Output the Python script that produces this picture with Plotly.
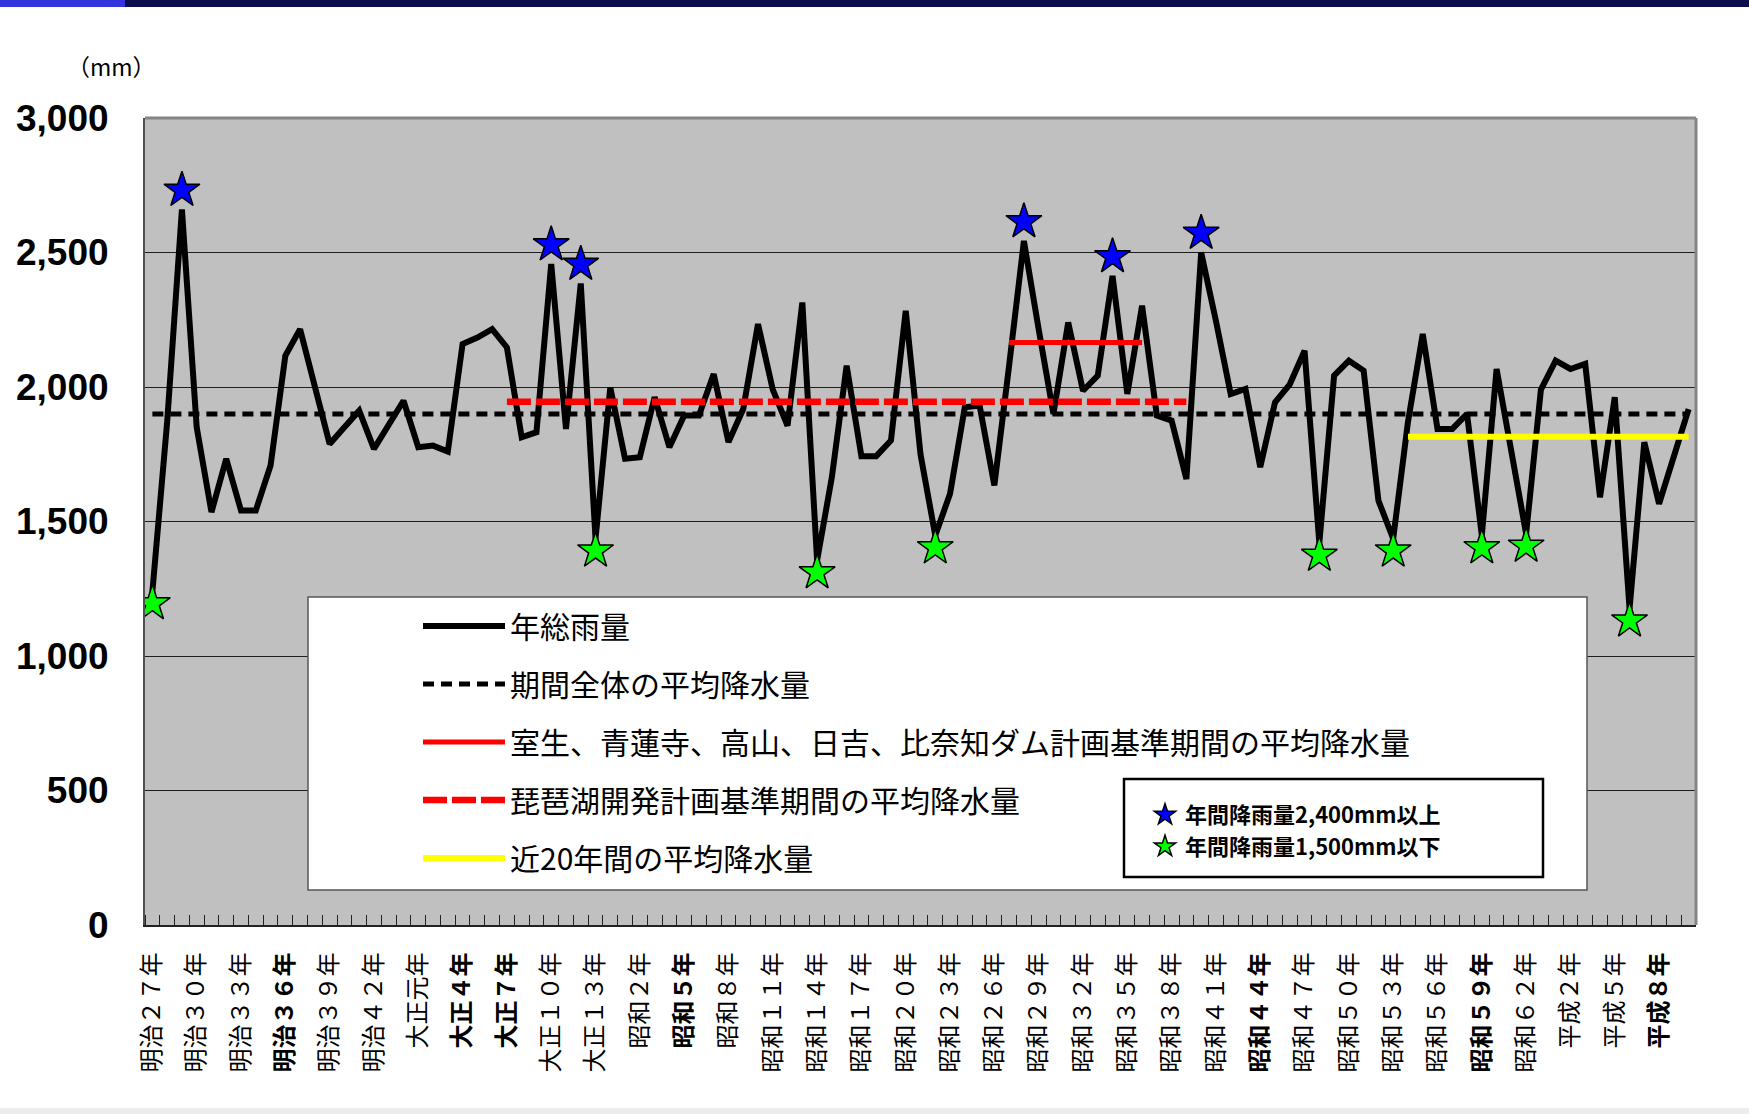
import plotly.graph_objects as go

# ---------------- data ----------------
years = list(range(1894, 1999))
rain_mm = [
    1240, 1870, 2660, 1850, 1535, 1733, 1541, 1541, 1708, 2116,   # 1894-1903
    2215, 2000, 1788, 1850, 1912, 1770, 1856, 1949, 1776, 1782,   # 1904-1913
    1760, 2160, 2184, 2215, 2147, 1813, 1832, 2457, 1844, 2385,   # 1914-1923
    1436, 1998, 1733, 1739, 1962, 1776, 1894, 1894, 2048, 1795,   # 1924-1933
    1918, 2234, 1990, 1856, 2314, 1355, 1665, 2079, 1743, 1743,   # 1934-1943
    1801, 2283, 1750, 1448, 1603, 1925, 1931, 1634, 2080, 2543,   # 1944-1953
    2215, 1900, 2240, 1986, 2042, 2413, 1974, 2302, 1894, 1875,   # 1954-1963
    1658, 2500, 2246, 1974, 1993, 1702, 1943, 2010, 2135, 1420,   # 1964-1973
    2042, 2098, 2061, 1578, 1436, 1870, 2197, 1844, 1844, 1900,   # 1974-1983
    1448, 2067, 1760, 1454, 1990, 2098, 2067, 2086, 1590, 1962,   # 1984-1993
    1176, 1795, 1566, 1745, 1918,                                 # 1994-1998
]

tick_years = years[::3]
tick_labels = [
    "明治２７年", "明治３０年", "明治３３年", "<b>明治３６年</b>", "明治３９年", "明治４２年",
    "大正元年", "<b>大正４年</b>", "<b>大正７年</b>", "大正１０年", "大正１３年",
    "昭和２年", "<b>昭和５年</b>", "昭和８年", "昭和１１年", "昭和１４年", "昭和１７年",
    "昭和２０年", "昭和２３年", "昭和２６年", "昭和２９年", "昭和３２年", "昭和３５年",
    "昭和３８年", "昭和４１年", "<b>昭和４４年</b>", "昭和４７年", "昭和５０年", "昭和５３年",
    "昭和５６年", "<b>昭和５９年</b>", "昭和６２年", "平成２年", "平成５年", "<b>平成８年</b>",
]

# average levels (mm) and their periods
avg_all_mm = 1900                      # 期間全体
avg_all_period = (1894, 1998)
avg_dam_mm = 2165                      # 室生…比奈知ダム計画基準期間
avg_dam_period = (1952, 1961)
avg_biwa_mm = 1945                     # 琵琶湖開発計画基準期間
avg_biwa_period = (1918, 1964)
avg_recent_mm = 1815                   # 近20年間
avg_recent_period = (1979, 1998)

blue_star_years = [1896, 1921, 1923, 1953, 1959, 1965]
green_star_years = [1894, 1924, 1939, 1947, 1973, 1978, 1984, 1987, 1994]
star_offset_high = 72      # stars are drawn slightly above / below the line
star_offset_low = 45

names = [
    "年総雨量",
    "期間全体の平均降水量",
    "室生、青蓮寺、高山、日吉、比奈知ダム計画基準期間の平均降水量",
    "琵琶湖開発計画基準期間の平均降水量",
    "近20年間の平均降水量",
]
star_names = ["年間降雨量2,400mm以上", "年間降雨量1,500mm以下"]

# ---------------- layout geometry (pixels) ----------------
W, H = 1749, 1114
PL, PR, PT, PB = 145, 1696, 118, 925     # plot area


def px(x):
    return (x - PL) / (PR - PL)


def py(y):
    return (PB - y) / (PB - PT)


def period(p, level):
    xs = [y for y in years if p[0] <= y <= p[1]]
    return xs, [level] * len(xs)


JP = "Noto Sans CJK JP"

fig = go.Figure()

fig.add_trace(go.Scatter(
    x=years, y=rain_mm, mode="lines", name=names[0], legendgroup="g1",
    line=dict(color="black", width=6),
))
xs, ys = period(avg_all_period, avg_all_mm)
fig.add_trace(go.Scatter(
    x=xs, y=ys, mode="lines", name=names[1], legendgroup="g2",
    line=dict(color="black", width=5, dash="11px,7px"),
))
xs, ys = period(avg_dam_period, avg_dam_mm)
fig.add_trace(go.Scatter(
    x=xs, y=ys, mode="lines", name=names[2], legendgroup="g3",
    line=dict(color="#FF0000", width=5),
))
xs, ys = period(avg_biwa_period, avg_biwa_mm)
fig.add_trace(go.Scatter(
    x=xs, y=ys, mode="lines", name=names[3], legendgroup="g4",
    line=dict(color="#FF0000", width=6.5, dash="24px,5px"),
))
xs, ys = period(avg_recent_period, avg_recent_mm)
fig.add_trace(go.Scatter(
    x=xs, y=ys, mode="lines", name=names[4], legendgroup="g5",
    line=dict(color="#FFFF00", width=6),
))

rain_by_year = dict(zip(years, rain_mm))
fig.add_trace(go.Scatter(
    x=blue_star_years, y=[rain_by_year[y] + star_offset_high for y in blue_star_years],
    mode="markers", name=star_names[0], legend="legend2",
    marker=dict(symbol="star", size=27, color="#0000FF", line=dict(color="black", width=1.5)),
))
fig.add_trace(go.Scatter(
    x=green_star_years, y=[rain_by_year[y] - star_offset_low for y in green_star_years],
    mode="markers", name=star_names[1], legend="legend2",
    marker=dict(symbol="star", size=27, color="#00FF00", line=dict(color="black", width=1.5)),
))

shapes = [
    # top banner
    dict(type="rect", xref="paper", yref="paper", x0=px(0), x1=px(W), y0=py(7), y1=py(0),
         fillcolor="#0D0D4E", line=dict(width=0), layer="above"),
    dict(type="rect", xref="paper", yref="paper", x0=px(0), x1=px(125), y0=py(7), y1=py(0),
         fillcolor="#3434DC", line=dict(width=0), layer="above"),
    # bottom light strip
    dict(type="rect", xref="paper", yref="paper", x0=px(0), x1=px(W), y0=py(1114), y1=py(1108),
         fillcolor="#EDEDED", line=dict(width=0), layer="above"),
    # plot frame top / right
    dict(type="line", xref="paper", yref="paper", x0=0, x1=1, y0=1, y1=1,
         line=dict(color="#858585", width=3), layer="above"),
    dict(type="line", xref="paper", yref="paper", x0=1, x1=1, y0=0, y1=1,
         line=dict(color="#858585", width=3), layer="above"),
    # legend box
    dict(type="rect", xref="paper", yref="paper", x0=px(308), x1=px(1587), y0=py(890), y1=py(597),
         fillcolor="white", line=dict(color="#555555", width=1.5), layer="above"),
    # star legend box
    dict(type="rect", xref="paper", yref="paper", x0=px(1124), x1=px(1543), y0=py(877), y1=py(779),
         fillcolor="white", line=dict(color="black", width=2.5), layer="above"),
]

fig.update_layout(
    width=W, height=H,
    margin=dict(l=PL, r=W - PR, t=PT, b=H - PB),
    paper_bgcolor="white",
    plot_bgcolor="#C0C0C0",
    font=dict(family=JP, color="black"),
    showlegend=True,
    legend=dict(
        x=px(418), y=py(600), xanchor="left", yanchor="top",
        bgcolor="rgba(0,0,0,0)", borderwidth=0,
        font=dict(family=JP, size=30, color="black"),
        itemwidth=82, tracegroupgap=16, traceorder="grouped",
    ),
    legend2=dict(
        x=px(1145), y=py(794), xanchor="left", yanchor="top",
        bgcolor="rgba(0,0,0,0)", borderwidth=0,
        font=dict(family=JP, size=22, color="black", weight="bold"),
        itemwidth=30,
    ),
    xaxis=dict(
        range=[years[0] - 0.5, years[-1] + 0.5],
        tickmode="array", tickvals=tick_years, ticktext=tick_labels,
        tickangle=-90, ticks="", ticklabelstandoff=16,
        tickfont=dict(family=JP, size=24, color="black"),
        showgrid=False, zeroline=False,
        showline=True, linecolor="#222222", linewidth=2,
        minor=dict(ticks="inside", ticklen=10, tickwidth=1.3, tickcolor="#222222",
                   tickmode="linear", tick0=years[0] - 0.5, dtick=1, showgrid=False),
    ),
    yaxis=dict(
        range=[0, 3000], tickmode="linear", tick0=0, dtick=500, tickformat=",",
        tickfont=dict(family="Liberation Sans", size=37, color="black", weight="bold"),
        ticks="", ticklabelstandoff=27,
        showgrid=True, gridcolor="#1E1E1E", gridwidth=1.2,
        zeroline=False, showline=True, linecolor="#505050", linewidth=2,
    ),
    shapes=shapes,
    annotations=[dict(
        xref="paper", yref="paper", x=px(111), y=py(66), xanchor="center", yanchor="middle",
        text="（mm）", showarrow=False, font=dict(family=JP, size=23, color="black"),
    )],
)

fig.write_html(
    "out.html",
    config={"displayModeBar": False},
    post_script="document.body.style.margin='0';document.body.style.overflow='hidden';",
)
